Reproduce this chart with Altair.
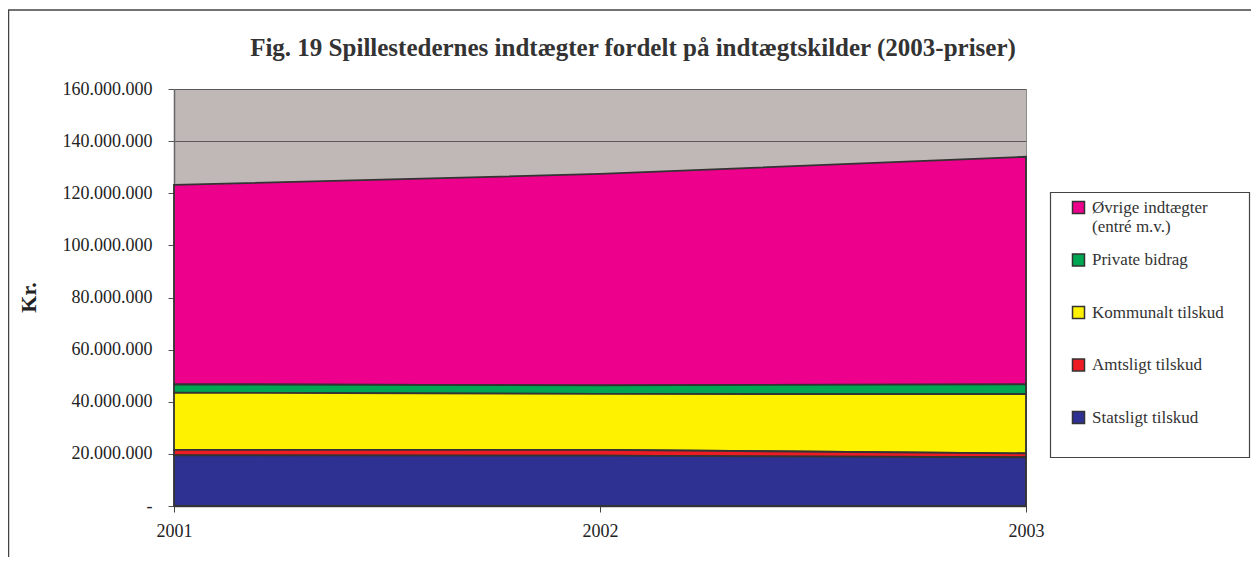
import altair as alt
import pandas as pd

years = [2001, 2002, 2003]
series = [
    "Øvrige indtægter (entré m.v.)",
    "Private bidrag",
    "Kommunalt tilskud",
    "Amtsligt tilskud",
    "Statsligt tilskud",
]
statsligt = [19_500_000, 19_300_000, 18_700_000]
amtsligt = [2_000_000, 2_200_000, 1_500_000]
kommunalt = [22_000_000, 21_500_000, 22_700_000]
private_bidrag = [3_200_000, 3_300_000, 3_800_000]
ovrige = [76_500_000, 81_100_000, 87_300_000]
colors = ["#EC008C", "#00A651", "#FFF200", "#ED1C24", "#2E3192"]
y_ticks = [0, 20_000_000, 40_000_000, 60_000_000, 80_000_000,
           100_000_000, 120_000_000, 140_000_000, 160_000_000]

values_by_series = {
    series[0]: ovrige,
    series[1]: private_bidrag,
    series[2]: kommunalt,
    series[3]: amtsligt,
    series[4]: statsligt,
}
rows = []
for idx, name in enumerate(series):
    for yr, v in zip(years, values_by_series[name]):
        rows.append({"year": str(yr), "series": name, "value": v,
                     "stackorder": len(series) - idx})
df = pd.DataFrame(rows)

FONT = "Liberation Serif"

area = alt.Chart(df).mark_area(
    stroke="#333333", strokeWidth=1.8, opacity=1
).encode(
    x=alt.X("year:O",
            scale=alt.Scale(type="point", padding=0,
                            domain=[str(y) for y in years]),
            axis=alt.Axis(title=None, grid=False, labelAngle=0,
                          labelFont=FONT, labelFontSize=18, labelColor="#222",
                          labelPadding=10, tickSize=6, tickColor="#444",
                          domainColor="#444", domainWidth=1.5)),
    y=alt.Y("value:Q", stack="zero",
            scale=alt.Scale(domain=[0, 160_000_000], nice=False),
            axis=alt.Axis(values=y_ticks, grid=True, gridColor="#5a5a5a",
                          gridWidth=1,
                          labelExpr="datum.value == 0 ? '-' : replace(format(datum.value, ','), regexp(',', 'g'), '.')",
                          labelFont=FONT, labelFontSize=18, labelColor="#222",
                          labelPadding=16, tickSize=6, tickColor="#555",
                          domainColor="#666", domainWidth=1.5,
                          title="Kr.", titleFont=FONT, titleFontSize=22,
                          titleFontWeight="bold", titleColor="#222",
                          titleAngle=270, titleX=-146, titleY=208,
                          titleAlign="center", titleBaseline="middle")),
    color=alt.Color("series:N",
                    scale=alt.Scale(domain=series, range=colors),
                    legend=alt.Legend(
                        orient="none", legendX=896, legendY=110,
                        title=None, symbolType="square", symbolSize=144,
                        symbolStrokeColor="#333333", symbolStrokeWidth=1.5,
                        labelFont=FONT, labelFontSize=17, labelColor="#333",
                        labelOffset=5, rowPadding=15.5, padding=0,
                        labelLimit=300,
                        labelExpr="datum.label == 'Øvrige indtægter (entré m.v.)' ? ['Øvrige indtægter', '(entré m.v.)'] : [datum.label, ' ']")),
    order=alt.Order("stackorder:Q", sort="ascending"),
)

frame = alt.Chart(alt.Data(values=[{"k": 1}])).mark_rect(
    fillOpacity=0, stroke="#444444", strokeWidth=1.5
).encode(
    x=alt.value(-165.5), y=alt.value(-79),
    x2=alt.value(1200), y2=alt.value(700),
)

legend_box = alt.Chart(alt.Data(values=[{"k": 1}])).mark_rect(
    fill="white", stroke="#444444", strokeWidth=1.2
).encode(
    x=alt.value(876.5), y=alt.value(103.5),
    x2=alt.value(1075.5), y2=alt.value(368.5),
)

chart = alt.layer(frame, legend_box, area).properties(
    width=852, height=417,
    title=alt.TitleParams(
        "Fig. 19 Spillestedernes indtægter fordelt på indtægtskilder (2003-priser)",
        font=FONT, fontSize=25, fontWeight="bold", color="#333",
        anchor="middle", frame="group", dx=33, dy=84.5, offset=33),
    autosize=alt.AutoSizeParams(type="none"),
    padding={"left": 166, "top": 81, "right": 225, "bottom": 51},
).configure_view(
    fill="#C0B8B6", stroke="#8c8c8c", strokeWidth=1
)

chart.save("out.html", embed_options={"renderer": "svg", "actions": False})
